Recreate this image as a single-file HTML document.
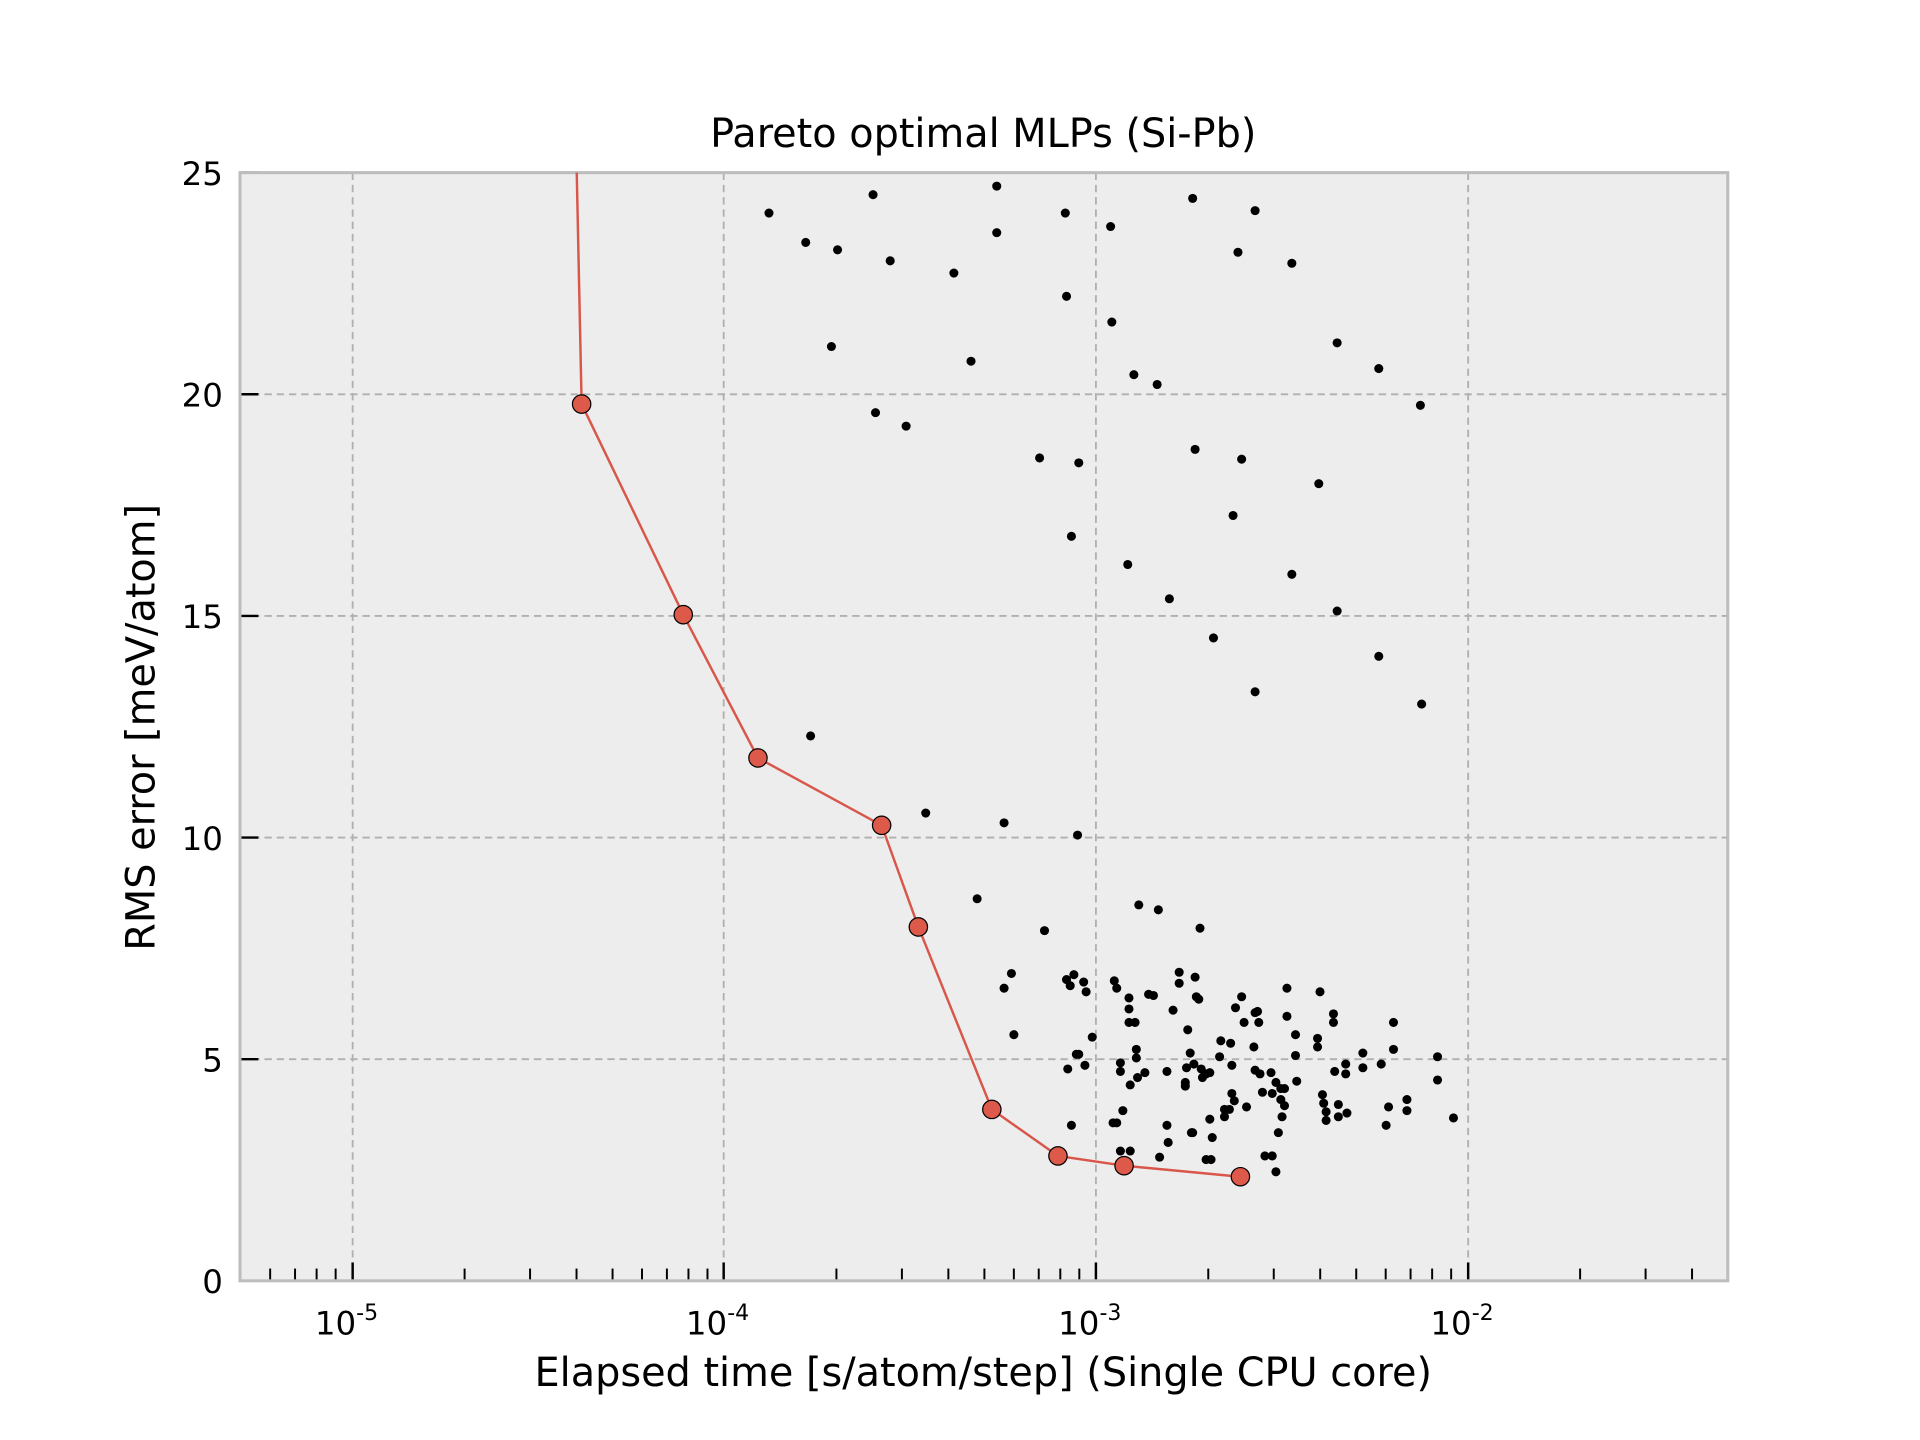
<!DOCTYPE html>
<html><head><meta charset="utf-8"><style>
html,body{margin:0;padding:0;background:#fff;}
svg{display:block;}
text{font-family:"DejaVu Sans","Liberation Sans",sans-serif;fill:#000;}
</style></head><body>
<svg id="s" width="1920" height="1440" viewBox="0 0 1568 1176" xmlns="http://www.w3.org/2000/svg">
<rect x="0" y="0" width="1568" height="1176" fill="#fff"/>
<rect x="196" y="141" width="1215" height="905" fill="#ededed"/>
<g id="grid" stroke="#b0b0b0" stroke-width="1.5" stroke-dasharray="6,4" fill="none"></g>
<g id="ticks" stroke="#000" stroke-width="1.6"></g>
<rect x="196" y="141" width="1215" height="905" fill="none" stroke="#bdbdbd" stroke-width="2.5"/>
<g id="pts" fill="#000"></g>
<polyline fill="none" stroke="#d9564a" stroke-width="2" points="471,141 475,330 558,502 619,619 720,674 750,757 810,906 864,944 918,952 1013,961"/>
<g fill="#dd5a4b" stroke="#000" stroke-width="1">
<circle cx="475" cy="330" r="7.5"/><circle cx="558" cy="502" r="7.5"/><circle cx="619" cy="619" r="7.5"/><circle cx="720" cy="674" r="7.5"/><circle cx="750" cy="757" r="7.5"/><circle cx="810" cy="906" r="7.5"/><circle cx="864" cy="944" r="7.5"/><circle cx="918" cy="952" r="7.5"/><circle cx="1013" cy="961" r="7.5"/>
</g>
<text x="803" y="120" font-size="32.5" text-anchor="middle">Pareto optimal MLPs (Si-Pb)</text>
<g font-size="26.5" text-anchor="end">
<text x="182" y="1056">0</text><text x="182" y="875">5</text><text x="182" y="694">10</text><text x="182" y="513">15</text><text x="182" y="332">20</text><text x="182" y="151">25</text>
</g>
<g font-size="26.5" text-anchor="middle">
<text x="283" y="1090">10<tspan font-size="18" dy="-12">-5</tspan></text>
<text x="586" y="1090">10<tspan font-size="18" dy="-12">-4</tspan></text>
<text x="890" y="1090">10<tspan font-size="18" dy="-12">-3</tspan></text>
<text x="1194" y="1090">10<tspan font-size="18" dy="-12">-2</tspan></text>
</g>
<text x="803" y="1132" font-size="32.5" text-anchor="middle">Elapsed time [s/atom/step] (Single CPU core)</text>
<text transform="translate(126,594) rotate(-90)" font-size="32.5" text-anchor="middle">RMS error [meV/atom]</text>
</svg>
<script>
var NS="http://www.w3.org/2000/svg";
function el(g,t,a){var e=document.createElementNS(NS,t);for(var k in a)e.setAttribute(k,a[k]);document.getElementById(g).appendChild(e);}
function X(v){return 288+(Math.log10(v)+5)*303.67;}
[288,591,895,1199].forEach(function(x){el("grid","line",{x1:x,y1:141,x2:x,y2:1046});el("ticks","line",{x1:x,y1:1046,x2:x,y2:1031,"stroke-width":2});});
[865,684,503,322].forEach(function(y){el("grid","line",{x1:196,y1:y,x2:1411,y2:y});});
[1046,865,684,503,322,141].forEach(function(y){el("ticks","line",{x1:196,y1:y,x2:211,y2:y,"stroke-width":2});});
for(var d=-6;d<=-2;d++)for(var m=2;m<=9;m++){var v=m*Math.pow(10,d);if(v<5.2e-6||v>4.5e-2)continue;var x=X(v);el("ticks","line",{x1:x,y1:1046,x2:x,y2:1036});}
var P=[628,174,658,198,684,204,713,159,727,213,779,223,814,152,814,190,870,174,907,185,974,162,1025,172,1011,206,1055,215,871,242,679,283,793,295,908,263,926,306,945,314,1092,280,1126,301,1160,331,715,337,740,348,849,374,881,378,976,367,1014,375,1077,395,1007,421,875,438,921,461,955,489,1055,469,1092,499,991,521,1126,536,1025,565,1161,575,662,601,756,664,820,672,880,682,798,734,853,760,930,739,946,743,980,758,
826,795,820,807,871,800,877,796,885,802,874,805,887,810,828,845,892,847,910,801,912,807,922,815,922,824,922,835,927,835,938,812,942,813,963,794,963,803,976,798,977,814,979,816,958,825,970,841,928,857,928,864,915,868,915,875,972,860,975,869,969,872,953,875,929,880,935,876,923,886,968,884,968,887,981,873,985,877,988,876,982,880,996,863,997,850,1005,852,1009,823,1014,814,1025,827,1027,826,1016,835,1028,835,1024,855,1006,870,1025,874,1029,877,1038,876,1051,807,1051,830,1058,845,1058,862,1059,883,1042,884,1046,889,1049,889,1031,892,1039,893,1006,893,1008,899,1000,906,1004,906,1018,904,1046,898,1049,903,1047,912,1000,912,988,914,1078,810,1089,828,1089,835,1076,848,1076,855,1090,875,1099,869,1099,877,1113,860,1113,872,1128,869,1138,835,1138,857,1174,863,1174,882,1187,913,1080,894,1081,901,1083,908,1083,915,1093,902,1093,912,1100,909,1134,904,1132,919,1149,898,1149,907,875,919,912,917,917,907,909,917,953,919,954,933,973,925,974,925,990,929,1044,925,915,940,923,940,947,945,985,947,989,947,1033,944,1039,944,1042,957,872,873,886,870,881,861,879,861];
for(var i=0;i<P.length;i+=2)el("pts","circle",{cx:P[i],cy:P[i+1],r:3.7});
</script>
</body></html>
